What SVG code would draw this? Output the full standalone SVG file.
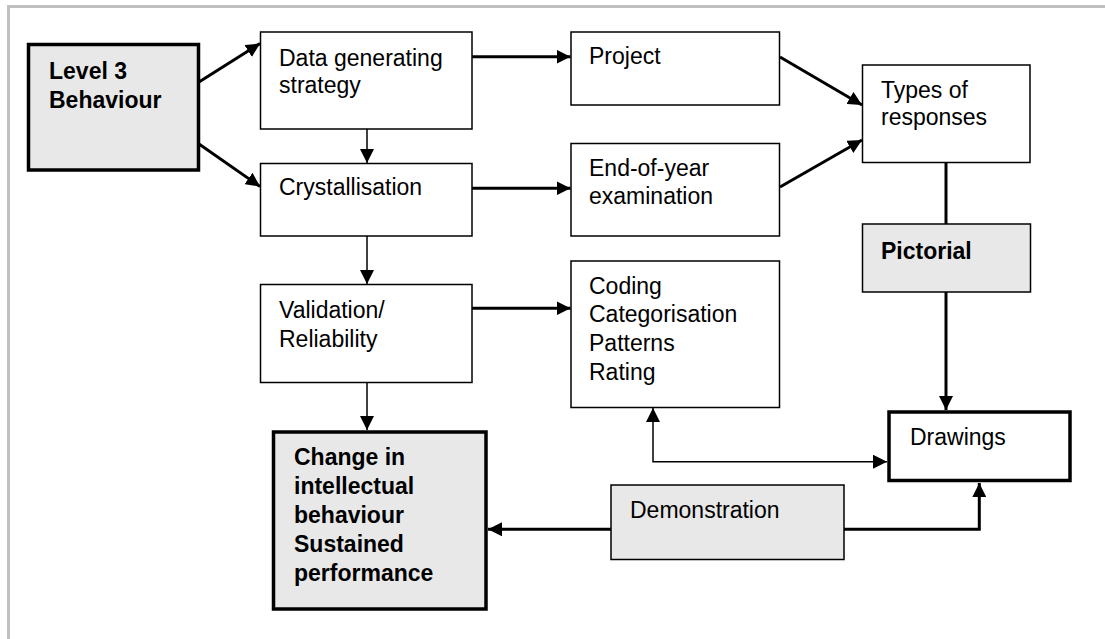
<svg xmlns="http://www.w3.org/2000/svg" width="1105" height="639" viewBox="0 0 1105 639">
<style>
.box{fill:#fff;stroke:#000;stroke-width:1.5}
.grey{fill:#e8e8e8;stroke:#000;stroke-width:1.5}
.thickbox{stroke-width:3.5}
text{font-family:"Liberation Sans",Arial,sans-serif;font-size:23px;fill:#000}
.b{font-weight:bold}
.thin{stroke:#000;stroke-width:1.5;fill:none}
.thick{stroke:#000;stroke-width:3;fill:none}
</style>
<defs>
<marker id="ah" markerUnits="userSpaceOnUse" markerWidth="14" markerHeight="14" refX="14" refY="7" orient="auto">
<path d="M0,0 L14,7 L0,14 z" fill="#000"/>
</marker>
<marker id="ahs" markerUnits="userSpaceOnUse" markerWidth="14" markerHeight="14" refX="14" refY="7" orient="auto-start-reverse">
<path d="M0,0 L14,7 L0,14 z" fill="#000"/>
</marker>
</defs>
<rect width="1105" height="639" fill="#fff"/>
<g id="frame" stroke="#c0c0c0" stroke-width="3" fill="none">
<line x1="7" y1="6.5" x2="1105" y2="6.5"/>
<line x1="8.5" y1="5" x2="8.5" y2="639"/>
</g>
<g id="connectors">
<line class="thick" x1="199" y1="82" x2="260" y2="43.5" marker-end="url(#ah)"/>
<line class="thick" x1="199" y1="144" x2="260" y2="186.5" marker-end="url(#ah)"/>
<line class="thin" x1="367" y1="129" x2="367" y2="163" marker-end="url(#ah)"/>
<line class="thin" x1="367" y1="236" x2="367" y2="284" marker-end="url(#ah)"/>
<line class="thin" x1="367" y1="383" x2="367" y2="430" marker-end="url(#ah)"/>
<line class="thick" x1="472" y1="56.7" x2="570.5" y2="56.7" marker-end="url(#ah)"/>
<line class="thick" x1="472" y1="188.3" x2="570.5" y2="188.3" marker-end="url(#ah)"/>
<line class="thick" x1="472" y1="308.3" x2="570.5" y2="308.3" marker-end="url(#ah)"/>
<line class="thick" x1="780" y1="57" x2="862" y2="105" marker-end="url(#ah)"/>
<line class="thick" x1="780" y1="187" x2="862" y2="140" marker-end="url(#ah)"/>
<line class="thick" x1="946" y1="163" x2="946" y2="224"/>
<line class="thick" x1="946" y1="292" x2="946" y2="410" marker-end="url(#ah)"/>
<path class="thin" d="M653,408 L653,461.7 L887,461.7" marker-start="url(#ahs)" marker-end="url(#ah)"/>
<line class="thick" x1="611" y1="529.3" x2="488" y2="529.3" marker-end="url(#ah)"/>
<path class="thick" d="M844,529.3 L979.3,529.3 L979.3,483" marker-end="url(#ah)"/>
</g>
<g id="level3">
<rect class="grey thickbox" x="28.5" y="44.5" width="170" height="125.5"/>
<text class="b" x="49" y="79">Level 3</text>
<text class="b" x="49" y="108">Behaviour</text>
</g>
<g id="data">
<rect class="box" x="260.5" y="32" width="211.5" height="97"/>
<text x="279" y="66">Data generating</text>
<text x="279" y="93">strategy</text>
</g>
<g id="crystal">
<rect class="box" x="260.5" y="163.5" width="211.5" height="72.5"/>
<text x="279" y="195">Crystallisation</text>
</g>
<g id="validation">
<rect class="box" x="260.5" y="284.5" width="211.5" height="98"/>
<text x="279" y="318">Validation/</text>
<text x="279" y="347">Reliability</text>
</g>
<g id="change">
<rect class="grey thickbox" x="273.5" y="432" width="212.5" height="177"/>
<text class="b" x="294" y="465">Change in</text>
<text class="b" x="294" y="494">intellectual</text>
<text class="b" x="294" y="523">behaviour</text>
<text class="b" x="294" y="552">Sustained</text>
<text class="b" x="294" y="581">performance</text>
</g>
<g id="project">
<rect class="box" x="571" y="32" width="208.5" height="73"/>
<text x="589" y="64">Project</text>
</g>
<g id="endofyear">
<rect class="box" x="571" y="143.5" width="208.5" height="92.5"/>
<text x="589" y="176">End-of-year</text>
<text x="589" y="204">examination</text>
</g>
<g id="coding">
<rect class="box" x="571" y="261" width="208.5" height="146.5"/>
<text x="589" y="294">Coding</text>
<text x="589" y="322">Categorisation</text>
<text x="589" y="351">Patterns</text>
<text x="589" y="380">Rating</text>
</g>
<g id="types">
<rect class="box" x="862.5" y="65" width="167.5" height="97.5"/>
<text x="881" y="98">Types of</text>
<text x="881" y="125">responses</text>
</g>
<g id="pictorial">
<rect class="grey" x="862.5" y="224" width="168" height="68"/>
<text class="b" x="881" y="259">Pictorial</text>
</g>
<g id="drawings">
<rect class="box thickbox" x="889" y="412" width="181" height="68.5"/>
<text x="910" y="445">Drawings</text>
</g>
<g id="demonstration">
<rect class="grey" x="611" y="485" width="233" height="74.5"/>
<text x="630" y="518">Demonstration</text>
</g>
</svg>
